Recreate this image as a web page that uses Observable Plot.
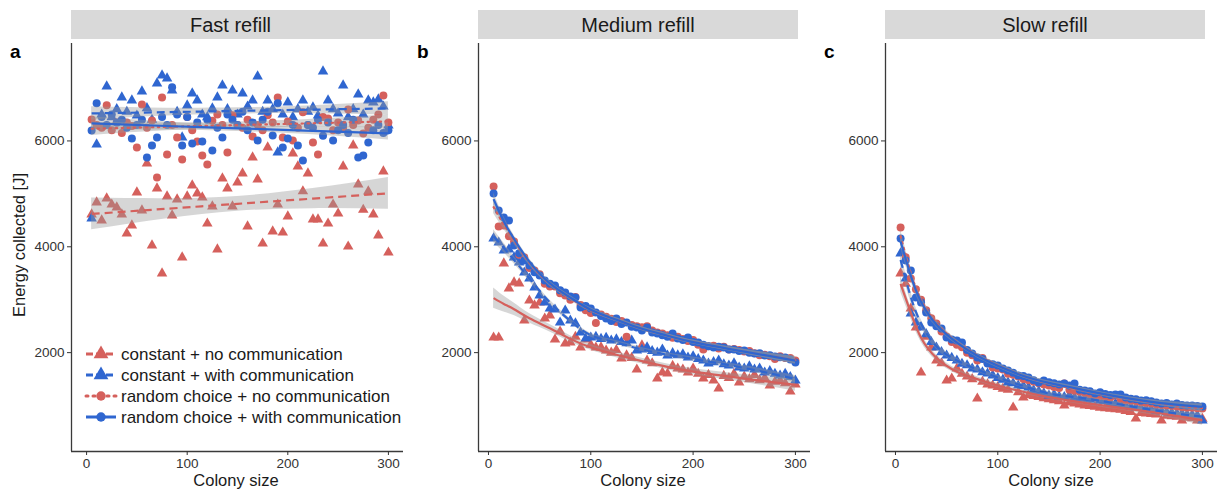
<!DOCTYPE html>
<html><head><meta charset="utf-8">
<script src="https://cdn.jsdelivr.net/npm/d3@7"></script>
<script src="https://cdn.jsdelivr.net/npm/@observablehq/plot@0.6"></script>
<style>
body{margin:0;background:#fff;font-family:"Liberation Sans",Arial,sans-serif;}
#wrap{position:relative;width:1219px;height:492px;overflow:hidden;background:#fff;}
#wrap svg{position:absolute;top:0;}
</style></head>
<body><div id="wrap"></div>
<script>
// ---------------- data ----------------
const sizes = [5,10,15,20,25,30,35,40,45,50,55,60,65,70,75,80,85,90,95,100,105,110,115,120,125,130,135,140,145,150,155,160,165,170,175,180,185,190,195,200,205,210,215,220,225,230,235,240,245,250,255,260,265,270,275,280,285,290,295,300];
const seriesNames = ["constant + no communication","constant + with communication","random choice + no communication","random choice + with communication"];
const panelTitles = ["Fast refill","Medium refill","Slow refill"];
const panelTags = ["a","b","c"];
const xTicks = [0,100,200,300];
const yTicks = [2000,4000,6000];

// Fast refill points
const fastConstNo = [4612,4838,4498,4914,4800,4744,4612,4253,4404,5027,4687,5575,4026,5103,3497,4952,4593,4895,3800,4952,5160,5009,4933,4441,4763,3950,5292,5103,4763,5216,5386,4385,5689,5273,4063,5878,4290,4800,4271,4574,5765,5519,5050,5386,4517,4517,4063,4441,4800,4630,5519,4006,5915,5178,4700,5046,4612,4215,5424,3893];
const fastConstWith = [4536,5935,6500,7031,6450,6600,6823,6550,6766,6480,6936,6620,6400,7088,7239,7182,6955,6550,6067,6672,6898,6766,6500,6450,6615,6823,7050,6600,6955,6500,6898,6650,6766,7220,6550,6766,6600,5783,6500,6728,6450,6600,6766,6550,6634,6480,7314,6766,6600,6520,7050,6450,6600,6880,6500,6766,6728,6785,6650,6294];
const fastRandNo = [6407,6300,6250,6672,6200,6350,6150,6350,6280,5878,6690,6250,6388,5311,6823,5745,6300,6067,5651,6450,6200,5991,5727,5557,6380,6500,6300,5783,6483,6300,6250,6400,6086,6300,6200,6483,6350,6823,6067,6369,6010,6250,6540,6300,5972,5745,6450,6426,6200,6350,6250,6596,6300,6388,6142,6250,6400,6500,6860,6350];
const fastRandWith = [6199,6710,6450,6300,6500,6350,6400,6250,6048,6300,6400,5689,5915,6067,6450,6300,7012,6500,5915,6450,5953,6350,5991,6400,5821,6250,6067,6500,6400,6300,6550,6200,6350,6010,6400,6550,6105,6710,5878,6048,6300,5915,5632,6300,6250,6400,6100,6350,6010,6200,6300,6150,6400,5689,5727,5972,6200,6300,6150,6200];

// Medium refill points
const medConstNo = [2287,2287,3686,3213,3327,3308,2608,2986,2892,2948,2646,2703,2249,2400,2173,2192,2300,2098,2250,2150,2098,2100,2041,2000,2050,1890,1950,1900,1682,2136,1850,1800,1512,1625,1606,1750,1700,1680,1625,1700,1600,1512,1580,1474,1323,1560,1520,1600,1436,1550,1500,1580,1480,1520,1380,1450,1470,1420,1266,1400];
const medConstWith = [4158,4082,3931,3950,3800,3704,3515,3400,3232,3081,2948,2835,2816,2570,2797,2608,2552,2381,2268,2287,2300,2260,2280,2230,2250,2200,2180,2230,2041,2060,2100,2030,2000,2060,1947,1990,1950,1970,1909,1930,1880,1850,1795,1820,1850,1780,1758,1800,1720,1701,1740,1680,1700,1625,1650,1600,1569,1600,1540,1474];
const medRandNo = [5141,4385,4400,4200,4100,3850,3800,3600,3550,3480,3300,3250,3250,3120,3080,3000,3050,2900,2800,2750,2560,2720,2680,2640,2580,2600,2300,2520,2500,2480,2500,2420,2380,2360,2330,2280,2300,2260,2220,2240,2150,2060,2120,2130,2080,2110,2060,2070,2050,2020,2030,1990,1950,1960,1930,1880,1930,1900,1900,1850];
const medRandWith = [5009,4687,4555,4498,4026,3880,3742,3648,3520,3459,3364,3300,3270,3180,3137,3060,3043,2854,2880,2835,2760,2690,2646,2600,2646,2540,2570,2490,2476,2420,2476,2380,2363,2330,2300,2363,2268,2240,2287,2200,2192,2150,2120,2098,2110,2098,2060,2060,2030,2041,2000,1985,1990,1947,1950,1928,1915,1909,1870,1814];

// Slow refill points
const slowConstNo = [3497,3300,2835,2476,1625,2300,2100,1852,1800,1474,1512,1700,1600,1550,1500,1134,1450,1400,1380,1350,1320,1300,964,1250,1153,1200,1180,1160,1140,1120,1100,1080,1002,1060,1040,1020,1000,990,980,960,950,940,930,920,900,880,756,860,850,840,830,718,810,800,790,718,770,760,718,750];
const slowConstWith = [3875,3400,2740,2570,2476,2350,2200,2098,2010,1947,1900,1852,1790,1760,1701,1680,1630,1606,1570,1520,1490,1436,1420,1380,1370,1342,1290,1270,1230,1191,1210,1170,1160,1191,1150,1130,1140,1110,1134,1090,1080,1050,1040,1030,1000,975,964,955,935,925,907,895,875,865,850,842,828,820,813,718];
const slowRandNo = [4366,3800,3400,3200,3000,2800,2650,2550,2400,2300,2200,2150,2100,2000,1950,1850,1900,1800,1720,1700,1680,1600,1580,1550,1500,1480,1450,1420,1400,1380,1350,1330,1418,1300,1280,1260,1240,1220,1200,1180,1170,1150,1191,1130,1100,1090,1080,1060,1050,1040,1020,1010,1000,990,980,970,960,960,950,945];
const slowRandWith = [4158,3742,3553,3043,2948,2760,2570,2500,2457,2287,2250,2230,2192,2050,1985,1909,1880,1795,1780,1758,1700,1663,1620,1569,1560,1531,1480,1436,1474,1440,1420,1400,1418,1380,1418,1300,1285,1270,1229,1250,1220,1200,1210,1210,1150,1130,1120,1096,1100,1080,1060,1040,1050,1020,1040,1010,1000,1002,990,983];

// Fitted smooths and their confidence half-widths
const fastFitX = [5,80,150,225,300];
const fastFitConstNo = [4620,4719,4812,4911,5010];
const fastFitConstWith = [6520,6544,6567,6591,6615];
const fastFitRandNo = [6230,6266,6299,6334,6370];
const fastFitRandWith = [6330,6282,6238,6190,6142];
const fastSeConstNo = [300,190,140,190,300];
const fastSeOther = [125,75,60,75,125];

const medFitX = [5,15,25,40,60,80,100,125,150,175,200,250,300];
const medFitConstNo = [3030,2920,2820,2650,2460,2260,2100,1960,1840,1730,1640,1510,1390];
const medFitConstWith = [4200,3980,3750,3400,2950,2600,2330,2190,2060,1960,1880,1710,1500];
const medFitRandNo = [4750,4420,4120,3700,3300,3030,2800,2620,2450,2320,2200,2020,1860];
const medFitRandWith = [4900,4480,4150,3720,3310,3040,2810,2620,2450,2320,2200,2020,1850];
const medSeConstNo = [190,150,120,90,70,60,55,55,55,55,60,75,120];
const medSeOther = [120,90,70,55,45,40,38,38,38,38,38,45,70];

const slowFitX = [5,15,25,40,60,80,100,125,150,175,200,250,300];
const slowFitConstNo = [3300,2750,2280,1900,1640,1500,1380,1260,1160,1080,1010,880,720];
const slowFitConstWith = [3750,3050,2550,2120,1850,1680,1530,1370,1230,1160,1090,920,790];
const slowFitRandNo = [4200,3500,3000,2560,2200,1950,1760,1560,1420,1320,1220,1060,950];
const slowFitRandWith = [4100,3450,2960,2530,2190,1940,1750,1560,1430,1330,1230,1070,975];
const slowSeConstNo = [150,110,80,60,50,45,40,40,40,40,40,55,90];
const slowSeOther = [130,100,75,55,45,40,38,38,38,38,38,45,70];

// ---------------- styling ----------------
const RED = "#d5605c", BLUE = "#2f66d0";
const look = [
  {color: RED,  symbol: "triangle", dash: "8,5"},
  {color: BLUE, symbol: "triangle", dash: "8,5"},
  {color: RED,  symbol: "circle",   dash: "1.5,4.5"},
  {color: BLUE, symbol: "circle",   dash: null}
];
const FONT = '"Liberation Sans", Arial, sans-serif';
const Y_DOMAIN = [132, 7841];

function makePanel(cfg) {
  const pts = [];
  cfg.values.forEach((arr, k) => arr.forEach((v, i) => pts.push({x: sizes[i], y: v, k})));
  const fit = [];
  cfg.fits.forEach((arr, k) => arr.forEach((v, i) => fit.push({x: cfg.fitX[i], y: v, lo: v - cfg.ses[k][i], hi: v + cfg.ses[k][i], k})));
  const marks = [];
  look.forEach((L, k) => marks.push(Plot.dot(pts.filter(d => d.k === k), {
    x: "x", y: "y", symbol: L.symbol, r: L.symbol === "triangle" ? 3.9 : 4, fill: L.color, stroke: "none"
  })));
  look.forEach((L, k) => marks.push(Plot.areaY(fit.filter(d => d.k === k), {
    x: "x", y1: "lo", y2: "hi", fill: "#999999", fillOpacity: 0.4, curve: "natural"
  })));
  look.forEach((L, k) => {
    const dash = cfg.dash ? cfg.dash[k] : L.dash;
    marks.push(Plot.line(fit.filter(d => d.k === k), {
      x: "x", y: "y", stroke: L.color, strokeWidth: 2.2, strokeDasharray: dash || undefined,
      strokeLinecap: k === 2 ? "round" : "butt", curve: "natural"
    }));
  });
  marks.push(Plot.ruleX([cfg.xDomain[0]], {stroke: "#3a3a3a", strokeWidth: 1.3}));
  marks.push(Plot.ruleY([Y_DOMAIN[0]], {stroke: "#3a3a3a", strokeWidth: 1.3}));
  marks.push(Plot.axisX({ticks: xTicks, tickSize: 4, tickPadding: 3, tickFormat: d => String(d), label: null, color: "#333", fontSize: 13.5}));
  marks.push(Plot.axisY({ticks: yTicks, tickSize: 4, tickPadding: 3, tickFormat: d => String(d), label: null, color: "#333", fontSize: 13.5}));
  const svg = Plot.plot({
    width: cfg.width, height: 492,
    marginLeft: cfg.mL, marginRight: cfg.mR, marginTop: 43, marginBottom: 41,
    x: {domain: cfg.xDomain}, y: {domain: Y_DOMAIN},
    style: {fontFamily: FONT, fontSize: "13.5px", background: "transparent", overflow: "visible"},
    marks
  });
  svg.style.left = cfg.left + "px";
  return svg;
}

const wrap = document.getElementById("wrap");
wrap.appendChild(makePanel({
  left: 0, width: 406, mL: 71, mR: 3, xDomain: [-15, 315],
  values: [fastConstNo, fastConstWith, fastRandNo, fastRandWith],
  fitX: fastFitX, fits: [fastFitConstNo, fastFitConstWith, fastFitRandNo, fastFitRandWith],
  ses: [fastSeConstNo, fastSeOther, fastSeOther, fastSeOther]
}));
wrap.appendChild(makePanel({
  left: 410, width: 406, mL: 68, mR: 6, xDomain: [-9.75, 314.75],
  values: [medConstNo, medConstWith, medRandNo, medRandWith],
  fitX: medFitX, fits: [medFitConstNo, medFitConstWith, medFitRandNo, medFitRandWith],
  ses: [medSeConstNo, medSeOther, medSeOther, medSeOther],
  dash: [null, "8,5", "1.5,4.5", null]
}));
wrap.appendChild(makePanel({
  left: 816, width: 403, mL: 69, mR: 2, xDomain: [-9.75, 314.75],
  values: [slowConstNo, slowConstWith, slowRandNo, slowRandWith],
  fitX: slowFitX, fits: [slowFitConstNo, slowFitConstWith, slowFitRandNo, slowFitRandWith],
  ses: [slowSeConstNo, slowSeOther, slowSeOther, slowSeOther],
  dash: [null, "8,5", "1.5,4.5", null]
}));

// ---------------- overlay: strips, tags, axis titles, legend ----------------
const ov = d3.select(wrap).append("svg").attr("width", 1219).attr("height", 492)
  .style("left", "0px").style("font-family", FONT);
const stripX = [[71, 390], [478, 798], [885, 1205]];
const tagX = [10, 417, 824];
const xLabX = [236, 643, 1051];
panelTitles.forEach((t, i) => {
  ov.append("rect").attr("x", stripX[i][0]).attr("y", 10).attr("width", stripX[i][1] - stripX[i][0]).attr("height", 29).attr("fill", "#d9d9d9");
  ov.append("text").attr("x", (stripX[i][0] + stripX[i][1]) / 2).attr("y", 32).attr("text-anchor", "middle")
    .attr("font-size", 20).attr("fill", "#1a1a1a").text(t);
  ov.append("text").attr("x", tagX[i]).attr("y", 58).attr("font-size", 19).attr("font-weight", "bold").attr("fill", "#000").text(panelTags[i]);
  ov.append("text").attr("x", xLabX[i]).attr("y", 486).attr("text-anchor", "middle").attr("font-size", 16.5).attr("fill", "#1a1a1a").text("Colony size");
});
ov.append("text").attr("transform", "translate(25,245) rotate(-90)").attr("text-anchor", "middle")
  .attr("font-size", 16.5).attr("fill", "#1a1a1a").text("Energy collected [J]");

const legY = [354, 375, 396, 417];
seriesNames.forEach((s, k) => {
  const L = look[k];
  const g = ov.append("g");
  const ln = g.append("line").attr("x1", 86).attr("x2", 116).attr("y1", legY[k]).attr("y2", legY[k])
    .attr("stroke", L.color).attr("stroke-width", 3);
  if (L.dash) ln.attr("stroke-dasharray", k === 2 ? "2,5" : "7,3").attr("stroke-linecap", k === 2 ? "round" : "butt");
  const sym = d3.symbol().type(L.symbol === "triangle" ? d3.symbolTriangle : d3.symbolCircle).size(L.symbol === "triangle" ? 95 : 70);
  g.append("path").attr("d", sym()).attr("transform", `translate(101,${legY[k]})`).attr("fill", L.color);
  g.append("text").attr("x", 121).attr("y", legY[k]).attr("dy", "0.35em").attr("font-size", 17).attr("fill", "#1a1a1a").text(s);
});
</script>
</body></html>
